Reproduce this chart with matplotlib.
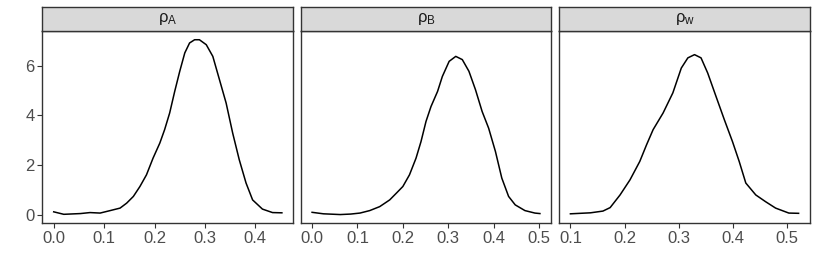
import numpy as np
import matplotlib
matplotlib.use("Agg")
import matplotlib.pyplot as plt

plt.rcParams['font.family'] = ['Liberation Sans', 'DejaVu Sans']
plt.rcParams['mathtext.fontset'] = 'custom'
plt.rcParams['mathtext.rm'] = 'Liberation Sans'
plt.rcParams['mathtext.it'] = 'Liberation Sans'

# density curves
rho_a_x = [0.0, 0.02, 0.053, 0.072, 0.092, 0.112, 0.1316, 0.1447, 0.158, 0.171,
           0.184, 0.197, 0.2105, 0.220, 0.230, 0.240, 0.250, 0.260, 0.2695,
           0.2795, 0.289, 0.3026, 0.3156, 0.3288, 0.342, 0.355, 0.368, 0.3815,
           0.3945, 0.414, 0.434, 0.4526]
rho_a_y = [0.11, 0.01, 0.04, 0.08, 0.06, 0.16, 0.26, 0.46, 0.73, 1.13,
           1.60, 2.27, 2.88, 3.42, 4.09, 4.96, 5.77, 6.51, 6.91,
           7.04, 7.04, 6.84, 6.37, 5.43, 4.49, 3.28, 2.21, 1.27,
           0.59, 0.22, 0.08, 0.07]

rho_b_x = [0.0, 0.025, 0.062, 0.085, 0.1055, 0.127, 0.149, 0.171, 0.1856, 0.200,
           0.2146, 0.229, 0.240, 0.251, 0.262, 0.2765, 0.287, 0.302, 0.3166,
           0.331, 0.3456, 0.360, 0.3747, 0.389, 0.404, 0.418, 0.433, 0.4476,
           0.469, 0.491, 0.502]
rho_b_y = [0.09, 0.03, 0.0, 0.02, 0.06, 0.16, 0.32, 0.59, 0.86, 1.13,
           1.60, 2.27, 2.94, 3.75, 4.35, 4.96, 5.56, 6.17, 6.37,
           6.24, 5.77, 5.03, 4.15, 3.48, 2.54, 1.47, 0.73, 0.39,
           0.16, 0.06, 0.04]

rho_w_x = [0.1, 0.137, 0.160, 0.1733, 0.1916, 0.21, 0.228, 0.2405, 0.2526,
           0.271, 0.289, 0.3046, 0.3167, 0.329, 0.341, 0.3533, 0.3686, 0.384,
           0.399, 0.4114, 0.4236, 0.442, 0.460, 0.4786, 0.503, 0.521]
rho_w_y = [0.03, 0.07, 0.14, 0.28, 0.79, 1.40, 2.14, 2.81, 3.42,
           4.09, 4.90, 5.90, 6.31, 6.44, 6.31, 5.70, 4.76, 3.82,
           2.94, 2.14, 1.27, 0.79, 0.52, 0.26, 0.06, 0.05]

labels = [r'$\rho_{\mathrm{A}}$', r'$\rho_{\mathrm{B}}$', r'$\rho_{\mathrm{w}}$']
xticks = [[0.0, 0.1, 0.2, 0.3, 0.4],
          [0.0, 0.1, 0.2, 0.3, 0.4, 0.5],
          [0.1, 0.2, 0.3, 0.4, 0.5]]
yticks = [0, 2, 4, 6]

series = [(rho_a_x, rho_a_y), (rho_b_x, rho_b_y), (rho_w_x, rho_w_y)]

W, H = 817, 273
fig = plt.figure(figsize=(W / 100, H / 100), dpi=100)

panels = [(42.3, 293.3), (300.7, 551.3), (559, 810)]
top, bottom, strip_top = 31, 223.3, 7.3

ymax_all = max(max(s[1]) for s in series)
ymin_all = min(min(s[1]) for s in series)
ypad = (ymax_all - ymin_all) * 0.05

for i, ((l, r), (xs, ys)) in enumerate(zip(panels, series)):
    ax = fig.add_axes([l / W, 1 - bottom / H, (r - l) / W, (bottom - top) / H])
    ax.plot(xs, ys, color='black', lw=1.1, solid_joinstyle='round')
    xpad = (max(xs) - min(xs)) * 0.05
    ax.set_xlim(min(xs) - xpad, max(xs) + xpad)
    ax.set_ylim(ymin_all - ypad, ymax_all + ypad)
    ax.set_xticks(xticks[i])
    ax.set_xticklabels(['%.1f' % t for t in xticks[i]])
    ax.set_yticks(yticks)
    for s in ax.spines.values():
        s.set_color('#333333')
        s.set_linewidth(1.0)
    ax.tick_params(colors='#333333', labelcolor='#4D4D4D', labelsize=12,
                   length=3.5, width=0.8, pad=2)
    if i > 0:
        ax.set_yticklabels([])
        ax.tick_params(axis='y', length=0)

    sax = fig.add_axes([l / W, 1 - top / H, (r - l) / W, (top - strip_top) / H])
    sax.set_facecolor('#D9D9D9')
    sax.set_xticks([])
    sax.set_yticks([])
    for s in sax.spines.values():
        s.set_color('#333333')
        s.set_linewidth(1.0)
    sax.text(0.5, 0.5, labels[i], ha='center', va='center', fontsize=12,
             color='#1A1A1A', transform=sax.transAxes)

fig.savefig('out.png', dpi=100)
